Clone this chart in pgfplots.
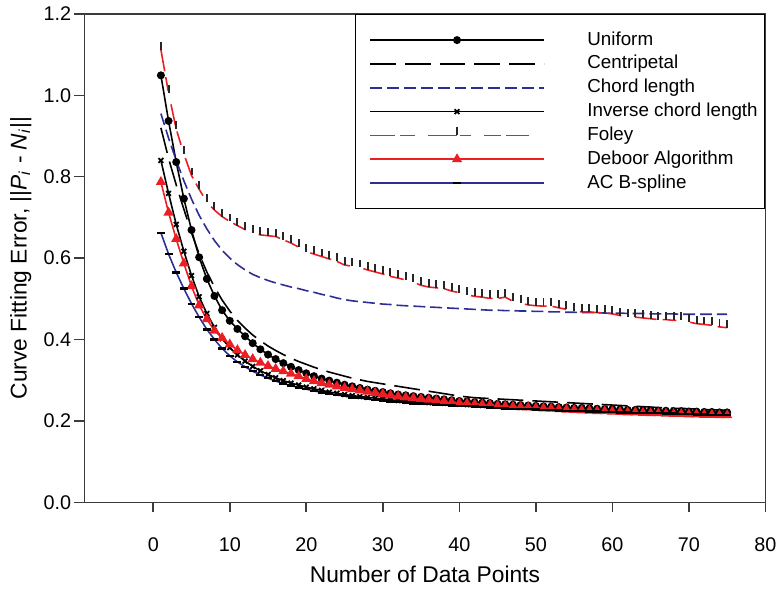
\documentclass[border=0pt]{standalone}
\usepackage{pgfplots}
\pgfplotsset{compat=1.18}
\usepackage{pgfplotstable}
\usepackage{fontspec}
\setmainfont{Liberation Sans}

\definecolor{sred}{RGB}{235,30,36}
\definecolor{sblue}{RGB}{45,45,150}
\definecolor{frame}{RGB}{60,60,60}

% short vertical tick drawn upward from the point (Foley)
\pgfdeclareplotmark{uptick}{%
  \pgfpathmoveto{\pgfpoint{0pt}{0pt}}%
  \pgfpathlineto{\pgfpoint{0pt}{2\pgfplotmarksize}}%
  \pgfusepathqstroke}

% x, Uniform, Centripetal, Chord, Inverse chord, Foley, Deboor, AC B-spline
\pgfplotstableread{
x  U     C     H     I     F     D     A
1  1.049 0.920 0.955 0.840 1.112 0.787 0.662
2  0.937 0.845 0.895 0.759 1.006 0.712 0.610
3  0.836 0.780 0.840 0.683 0.917 0.647 0.565
4  0.746 0.720 0.790 0.617 0.856 0.587 0.525
5  0.669 0.662 0.745 0.557 0.803 0.531 0.488
6  0.602 0.610 0.705 0.505 0.769 0.484 0.455
7  0.549 0.566 0.672 0.464 0.738 0.450 0.425
8  0.507 0.529 0.643 0.430 0.718 0.422 0.400
9  0.472 0.497 0.619 0.402 0.702 0.404 0.378
10 0.446 0.470 0.600 0.380 0.690 0.388 0.360
11 0.426 0.447 0.584 0.362 0.680 0.374 0.345
12 0.408 0.428 0.571 0.347 0.670 0.362 0.333
13 0.391 0.411 0.560 0.334 0.662 0.352 0.322
14 0.376 0.397 0.552 0.323 0.657 0.343 0.313
15 0.363 0.384 0.545 0.314 0.655 0.335 0.305
16 0.352 0.373 0.539 0.306 0.653 0.328 0.298
17 0.342 0.363 0.534 0.299 0.645 0.322 0.292
18 0.333 0.354 0.529 0.293 0.637 0.316 0.287
19 0.325 0.346 0.525 0.288 0.627 0.310 0.282
20 0.317 0.339 0.520 0.283 0.616 0.303 0.278
21 0.310 0.332 0.516 0.279 0.610 0.298 0.274
22 0.304 0.326 0.511 0.275 0.604 0.293 0.270
23 0.299 0.320 0.507 0.271 0.598 0.289 0.267
24 0.294 0.315 0.502 0.268 0.592 0.285 0.264
25 0.289 0.310 0.498 0.265 0.583 0.281 0.261
26 0.285 0.305 0.495 0.262 0.580 0.278 0.258
27 0.281 0.301 0.493 0.260 0.577 0.275 0.256
28 0.277 0.297 0.491 0.258 0.571 0.272 0.254
29 0.274 0.294 0.489 0.256 0.566 0.269 0.252
30 0.271 0.291 0.487 0.254 0.561 0.266 0.250
31 0.268 0.288 0.486 0.252 0.555 0.263 0.248
32 0.265 0.285 0.484 0.250 0.551 0.260 0.246
33 0.263 0.282 0.483 0.249 0.546 0.258 0.245
34 0.261 0.279 0.482 0.247 0.541 0.256 0.243
35 0.259 0.276 0.481 0.246 0.533 0.254 0.242
36 0.257 0.273 0.480 0.245 0.529 0.252 0.241
37 0.255 0.270 0.479 0.244 0.527 0.250 0.240
38 0.253 0.267 0.478 0.243 0.525 0.248 0.239
39 0.251 0.264 0.477 0.242 0.519 0.246 0.238
40 0.249 0.261 0.476 0.241 0.515 0.244 0.237
41 0.248 0.259 0.475 0.240 0.510 0.243 0.236
42 0.246 0.257 0.474 0.239 0.506 0.241 0.235
43 0.245 0.256 0.473 0.238 0.504 0.240 0.234
44 0.244 0.255 0.472 0.237 0.501 0.239 0.233
45 0.242 0.254 0.472 0.236 0.501 0.237 0.232
46 0.241 0.253 0.471 0.235 0.504 0.236 0.231
47 0.240 0.252 0.471 0.234 0.494 0.235 0.230
48 0.239 0.251 0.470 0.233 0.489 0.234 0.230
49 0.238 0.250 0.470 0.233 0.485 0.233 0.229
50 0.237 0.249 0.469 0.232 0.483 0.232 0.228
51 0.236 0.248 0.469 0.231 0.482 0.231 0.227
52 0.235 0.247 0.468 0.230 0.482 0.230 0.227
53 0.234 0.246 0.468 0.230 0.478 0.229 0.226
54 0.233 0.245 0.467 0.229 0.474 0.228 0.225
55 0.232 0.244 0.467 0.228 0.470 0.227 0.225
56 0.232 0.243 0.466 0.228 0.468 0.226 0.224
57 0.231 0.242 0.466 0.227 0.468 0.225 0.223
58 0.230 0.241 0.466 0.226 0.466 0.224 0.223
59 0.229 0.240 0.465 0.226 0.465 0.224 0.222
60 0.229 0.239 0.465 0.225 0.463 0.223 0.222
61 0.228 0.238 0.465 0.225 0.459 0.222 0.221
62 0.227 0.237 0.464 0.224 0.455 0.221 0.221
63 0.227 0.236 0.464 0.224 0.455 0.221 0.220
64 0.226 0.235 0.464 0.223 0.453 0.220 0.220
65 0.226 0.234 0.463 0.222 0.451 0.219 0.219
66 0.225 0.233 0.463 0.222 0.449 0.219 0.219
67 0.225 0.232 0.463 0.221 0.449 0.218 0.218
68 0.224 0.231 0.463 0.221 0.447 0.217 0.218
69 0.224 0.231 0.462 0.220 0.447 0.217 0.217
70 0.223 0.230 0.462 0.220 0.443 0.216 0.217
71 0.223 0.229 0.462 0.219 0.439 0.216 0.216
72 0.222 0.228 0.462 0.219 0.437 0.215 0.216
73 0.222 0.227 0.462 0.218 0.435 0.215 0.215
74 0.221 0.227 0.462 0.218 0.431 0.214 0.215
75 0.221 0.226 0.462 0.217 0.429 0.214 0.214
}\errdata

\begin{document}
\begin{tikzpicture}
\begin{axis}[
    scale only axis,
    width=343bp, height=246bp,
    xmin=-9, xmax=80, ymin=0, ymax=1.2,
    xtick={0,10,...,80},
    ytick={0,0.2,...,1.2},
    xtick pos=left, ytick pos=left,
    tick align=outside,
    major tick length=5bp,
    axis line style={draw=frame, line width=0.8bp},
    every tick/.style={draw=frame, line width=0.8bp},
    /pgf/number format/assume math mode=true,
    tick label style={font=\fontsize{10}{12}\selectfont},
    yticklabel style={/pgf/number format/fixed,
        /pgf/number format/fixed zerofill,
        /pgf/number format/precision=1, inner xsep=1.5bp},
    xticklabel shift=9.5bp,
    label style={font=\fontsize{11.5}{13}\selectfont},
    xlabel={Number of Data Points},
    ylabel={Curve Fitting Error, ||\textit{P}\textsubscript{\textit{i}} - \textit{N}\textsubscript{\textit{i}}||},
    xlabel style={at={(axis description cs:0.5,-0.148)}, anchor=center},
    ylabel style={at={(axis description cs:-0.0933,0.5)}, anchor=center},
    legend cell align=left,
    legend image code/.code={%
        \path (0bp,0bp);
        \draw[mark repeat=2,mark phase=2,#1]
        plot coordinates {(3.5bp,0bp) (47.25bp,0bp) (91bp,0bp)};},
    legend style={at={(1,1)}, anchor=north east,
        draw=black, line width=0.8bp,
        inner xsep=3.5bp, inner ysep=8.3bp,
        font=\fontsize{9.5}{11}\selectfont,
        row sep=3bp,
        nodes={inner sep=0pt, text height=7bp, text depth=2bp},
        /tikz/every odd column/.append style={column sep=21.5bp}},
]
\addplot[color=black, draw=black, line width=0.8bp, mark=*, mark size=1.6bp,
    mark options={solid, fill=black}] table[x=x, y=U] {\errdata};
\addlegendentry{Uniform}
\addplot[color=black, draw=black, line width=0.8bp, dash pattern=on 13bp off 4.5bp]
    table[x=x, y=C] {\errdata};
\addlegendentry{Centripetal}
\addplot[color=sblue, draw=sblue, line width=0.8bp, dash pattern=on 6bp off 2.5bp]
    table[x=x, y=H] {\errdata};
\addlegendentry{Chord length}
\addplot[color=black, draw=black, line width=0.8bp, mark=x, mark size=1.7bp,
    mark options={solid, line width=0.9bp}] table[x=x, y=I] {\errdata};
\addlegendentry{Inverse chord length}
\addplot[forget plot, color=sred, draw=sred, line width=0.8bp,
    dash pattern=on 11bp off 3bp on 7bp off 7bp,
    mark=uptick, mark size=2bp,
    mark options={solid, draw=black!85, line width=1bp}]
    table[x=x, y=F] {\errdata};
\addlegendimage{color=sred, draw=sred, line width=0.8bp,
    legend image code/.code={%
        \path (0bp,0bp);
        \draw[draw=sred, solid, line width=0.8bp]
            (3.5bp,0bp) -- (16bp,0bp) (18.5bp,0bp) -- (26bp,0bp)
            (32.5bp,0bp) -- (47bp,0bp) (48.5bp,0bp) -- (54.5bp,0bp)
            (61bp,0bp) -- (69.5bp,0bp) (72bp,0bp) -- (83.5bp,0bp);
        \draw[draw=black!85, solid, line width=1bp]
            (47.25bp,0bp) -- (47.25bp,4bp);}}
\addlegendentry{Foley}
\addplot[color=sred, draw=sred, line width=0.8bp, mark=triangle*, mark size=2.2bp,
    mark options={solid, fill=sred}] table[x=x, y=D] {\errdata};
\addlegendentry{Deboor Algorithm}
\addplot[color=sblue, draw=sblue, line width=0.8bp, mark=-, mark size=2bp,
    mark options={solid, draw=black, line width=1.2bp}]
    table[x=x, y=A] {\errdata};
\addlegendentry{AC B-spline}
\end{axis}
\path ([shift={(-42.5bp,-40.5bp)}]current axis.south west)
    rectangle ([shift={(6bp,7bp)}]current axis.north east);
\end{tikzpicture}
\end{document}
